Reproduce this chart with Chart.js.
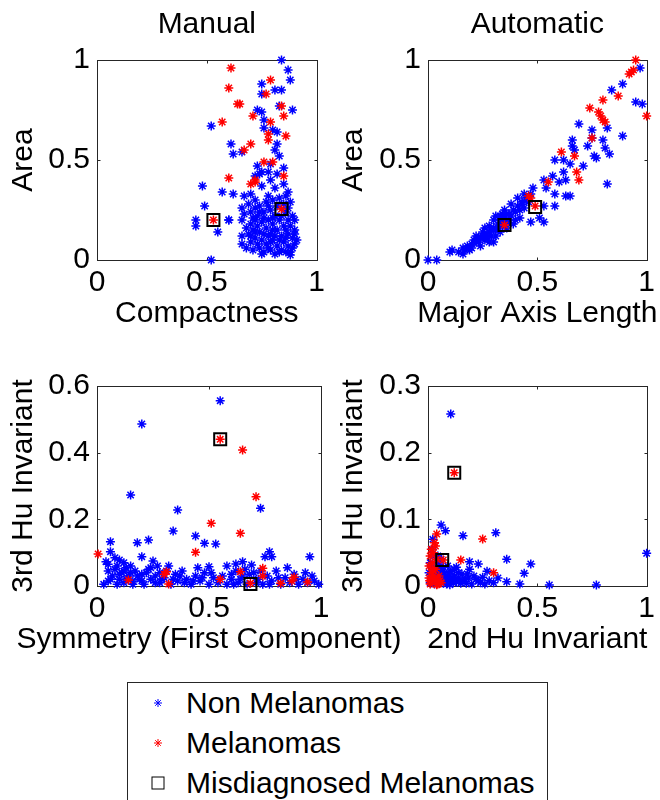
<!DOCTYPE html>
<html>
<head>
<meta charset="utf-8">
<script src="https://cdn.jsdelivr.net/npm/chart.js@4.4.1/dist/chart.umd.min.js"></script>
<style>
  html, body { margin: 0; padding: 0; background: #fff; }
  body { width: 660px; height: 800px; position: relative; overflow: hidden;
         font-family: "Liberation Sans", Arial, sans-serif; }
  canvas { position: absolute; }
  #legend { position: absolute; left: 127px; top: 682px; width: 421px; height: 140px;
            border: 1px solid #262626; box-sizing: border-box; }
  .row { position: absolute; left: 0; width: 100%; height: 40px; line-height: 40px; font-size: 30px; color: #000; }
  .row svg { position: absolute; left: 23px; top: 13px; }
  .row span { position: absolute; left: 58px; white-space: nowrap; }
</style>
</head>
<body>
<canvas id="manualArea" width="330" height="340" style="left:0;top:0"></canvas>
<canvas id="autoArea" width="330" height="340" style="left:330px;top:0"></canvas>
<canvas id="manualHu" width="420" height="336" style="left:0;top:330px"></canvas>
<canvas id="autoHu" width="330" height="336" style="left:330px;top:330px"></canvas>

<div id="legend">
  <div class="row" style="top:0">
    <svg width="14" height="14" viewBox="-7 -7 14 14"><path d="M-4 0H4M0 -4V4M-2.8 -2.8L2.8 2.8M-2.8 2.8L2.8 -2.8" stroke="#0000ff" stroke-width="1" fill="none"/></svg>
    <span>Non Melanomas</span>
  </div>
  <div class="row" style="top:40px">
    <svg width="14" height="14" viewBox="-7 -7 14 14"><path d="M-4 0H4M0 -4V4M-2.8 -2.8L2.8 2.8M-2.8 2.8L2.8 -2.8" stroke="#ff0000" stroke-width="1" fill="none"/></svg>
    <span>Melanomas</span>
  </div>
  <div class="row" style="top:80px">
    <svg width="14" height="14" viewBox="-7 -7 14 14"><rect x="-6" y="-6" width="12" height="12" stroke="#000" stroke-width="1" fill="none"/></svg>
    <span>Misdiagnosed Melanomas</span>
  </div>
</div>

<script>
// tick values
const unitTicks = [0, 0.5, 1];
const hu3ManualTicks = [0, 0.2, 0.4, 0.6];
const hu3AutoTicks = [0, 0.1, 0.2, 0.3];

// Manual: Compactness vs Area
const manualAreaNon = [
  [0.84,1.0],[0.87,0.95],[0.88,0.9],[0.75,0.88],[0.81,0.85],[0.84,0.85],[0.75,0.83],[0.89,0.75],
  [0.73,0.75],[0.75,0.74],[0.83,0.77],[0.52,0.67],[0.76,0.7],[0.76,0.66],[0.8,0.65],[0.82,0.64],
  [0.61,0.58],[0.82,0.58],[0.81,0.55],[0.62,0.53],[0.66,0.54],[0.83,0.52],[0.73,0.47],[0.79,0.48],
  [0.85,0.46],[0.75,0.44],[0.78,0.44],[0.82,0.43],[0.72,0.42],[0.48,0.37],[0.57,0.34],[0.62,0.33],
  [0.67,0.32],[0.7,0.33],[0.75,0.37],[0.81,0.36],[0.87,0.34],[0.86,0.32],[0.78,0.32],[0.74,0.43],
  [0.85,0.38],[0.79,0.4],[0.49,0.27],[0.45,0.2],[0.45,0.17],[0.6,0.2],[0.55,0.14],[0.52,0.0],
  [0.66,0.26],[0.67,0.23],[0.66,0.2],[0.66,0.12],[0.6,0.2],
  [0.69,0.28],[0.72,0.3],[0.74,0.27],[0.77,0.29],[0.8,0.3],[0.83,0.31],[0.88,0.29],[0.7,0.24],
  [0.73,0.22],[0.76,0.24],[0.79,0.25],[0.81,0.22],[0.86,0.24],[0.89,0.22],[0.9,0.2],[0.7,0.18],
  [0.72,0.2],[0.75,0.19],[0.78,0.2],[0.8,0.18],[0.83,0.2],[0.85,0.17],[0.88,0.17],[0.9,0.15],
  [0.69,0.13],[0.71,0.15],[0.74,0.14],[0.77,0.16],[0.79,0.13],[0.82,0.15],[0.84,0.12],[0.87,0.13],
  [0.89,0.11],[0.91,0.1],[0.7,0.09],[0.72,0.11],[0.75,0.1],[0.77,0.08],[0.8,0.1],[0.82,0.07],
  [0.85,0.09],[0.87,0.07],[0.9,0.08],[0.71,0.05],[0.74,0.06],[0.76,0.04],[0.79,0.05],[0.81,0.03],
  [0.84,0.05],[0.86,0.04],[0.88,0.04],[0.88,0.025],[0.78,0.12],[0.81,0.12],[0.84,0.22],[0.76,0.21],
  [0.73,0.17],[0.68,0.06],[0.66,0.08],
  [0.72,0.26],[0.78,0.27],[0.82,0.27],[0.85,0.28],[0.87,0.26],[0.71,0.21],[0.74,0.24],[0.8,0.21],
  [0.87,0.2],[0.72,0.14],[0.76,0.13],[0.8,0.15],[0.86,0.15],[0.9,0.13],[0.73,0.08],[0.79,0.09],
  [0.83,0.1],[0.86,0.11],[0.75,0.03],[0.83,0.04],[0.89,0.06],[0.78,0.06],[0.68,0.16],[0.7,0.12]
];
const manualAreaMel = [
  [0.61,0.96],[0.79,0.9],[0.6,0.86],[0.77,0.83],[0.64,0.78],[0.65,0.78],[0.84,0.77],[0.71,0.72],
  [0.85,0.72],[0.57,0.69],[0.79,0.69],[0.78,0.63],[0.86,0.62],[0.78,0.6],[0.7,0.58],[0.67,0.55],
  [0.76,0.49],[0.8,0.49],[0.85,0.42],[0.6,0.41],[0.72,0.4],[0.7,0.38],[0.72,0.39],
  [0.53,0.2],[0.84,0.255]
];
const manualAreaMiss = [[0.53,0.2],[0.84,0.255]];

// Automatic: Major Axis Length vs Area
const autoAreaNon = [
  [0.97,0.96],[0.89,0.88],[0.84,0.85],[0.95,0.79],[0.98,0.78],[0.82,0.66],[0.69,0.68],[0.75,0.65],
  [0.75,0.61],[0.8,0.6],[0.89,0.62],[0.66,0.6],[0.66,0.57],[0.73,0.57],[0.81,0.56],[0.67,0.55],
  [0.76,0.52],[0.83,0.53],[0.77,0.51],[0.58,0.5],[0.62,0.5],[0.65,0.48],[0.71,0.47],[0.62,0.44],
  [0.57,0.42],[0.53,0.4],[0.6,0.39],[0.63,0.4],[0.54,0.36],[0.48,0.36],[0.82,0.38],[0.58,0.33],
  [0.63,0.32],[0.65,0.32],[0.58,0.27],[0.53,0.27],[0.53,0.19],[0.47,0.19],[0.51,0.21],[0.43,0.28],
  [0.45,0.3],
  [0,0],[0.04,0],[0.1,0.04],[0.11,0.05],[0.16,0.03],[0.16,0.06],[0.18,0.07],[0.2,0.08],
  [0.21,0.1],[0.23,0.09],[0.24,0.11],[0.25,0.12],[0.26,0.1],[0.27,0.13],[0.28,0.14],[0.29,0.12],
  [0.3,0.16],[0.31,0.15],[0.32,0.18],[0.33,0.2],[0.34,0.17],[0.35,0.21],[0.36,0.19],[0.37,0.23],
  [0.38,0.22],[0.39,0.25],[0.4,0.24],[0.41,0.27],[0.42,0.25],[0.43,0.29],[0.44,0.26],[0.45,0.31],
  [0.46,0.29],[0.47,0.33],[0.44,0.33],[0.41,0.31],[0.38,0.28],[0.35,0.25],[0.3,0.2],[0.28,0.17],
  [0.25,0.14],[0.22,0.12],[0.31,0.12],[0.33,0.14],[0.36,0.16],[0.39,0.18],[0.28,0.09],[0.24,0.07],
  [0.31,0.22],[0.34,0.23],[0.19,0.05],[0.3,0.09],[0.26,0.16],[0.42,0.21],[0.4,0.2],
  [0.22,0.09],[0.26,0.12],[0.29,0.15],[0.32,0.16],[0.34,0.19],[0.37,0.2],[0.27,0.11],[0.33,0.22],
  [0.36,0.23],[0.23,0.11],[0.2,0.06],[0.14,0.04],[0.17,0.05]
];
const autoAreaMel = [
  [0.95,1.0],[0.94,0.95],[0.92,0.93],[0.93,0.94],[0.87,0.82],[0.8,0.8],[0.74,0.76],[0.78,0.74],
  [0.79,0.72],[0.8,0.7],[0.81,0.69],[1.0,0.72],[0.75,0.61],[0.61,0.54],[0.67,0.52],[0.68,0.44],
  [0.69,0.4],[0.55,0.39],[0.46,0.32],[0.47,0.31],[0.49,0.27],[0.35,0.175]
];
const autoAreaMiss = [[0.49,0.265],[0.35,0.175]];

// Manual: Symmetry (First Component) vs 3rd Hu Invariant
const manualHuNon = [
  [0.55,0.556],[0.2,0.486],[0.15,0.273],[0.73,0.233],[0.36,0.228],[0.34,0.165],[0.44,0.15],[0.48,0.128],
  [0.53,0.126],[0.06,0.133],[0.18,0.13],[0.23,0.138],[0.06,0.103],[0.04,0.073],[0.2,0.088],[0.77,0.103],
  [0.75,0.088],[0.78,0.088],[0.95,0.088],[0.1,0.078],[0.5,0.058],[0.62,0.066],[0.65,0.073],[0.69,0.063],
  [0.03,0.005],[0.05,0.045],[0.07,0.03],[0.09,0.06],[0.1,0.02],[0.11,0.04],[0.12,0.01],[0.13,0.055],
  [0.14,0.03],[0.16,0.015],[0.17,0.045],[0.19,0.02],[0.2,0.035],[0.21,0.005],[0.23,0.05],[0.24,0.02],
  [0.26,0.03],[0.27,0.06],[0.28,0.01],[0.3,0.025],[0.31,0.045],[0.33,0.005],[0.35,0.035],[0.36,0.015],
  [0.38,0.045],[0.4,0.02],[0.42,0.005],[0.44,0.03],[0.46,0.015],[0.48,0.04],[0.5,0.005],[0.52,0.025],
  [0.54,0.01],[0.56,0.03],[0.58,0.005],[0.6,0.02],[0.62,0.045],[0.63,0.01],[0.65,0.03],[0.67,0.005],
  [0.7,0.04],[0.72,0.02],[0.74,0.005],[0.76,0.03],[0.78,0.015],[0.8,0.045],[0.82,0.005],[0.84,0.025],
  [0.86,0.01],[0.88,0.035],[0.9,0.005],[0.92,0.02],[0.94,0.01],[0.96,0.03],[0.99,0.005],[0.15,0.06],
  [0.25,0.075],[0.05,0.065],[0.08,0.085],[0.12,0.07],[0.32,0.06],[0.45,0.055],[0.58,0.06],[0.85,0.055],
  [0.06,0.02],[0.08,0.05],[0.1,0.035],[0.12,0.045],[0.13,0.02],[0.15,0.04],[0.16,0.005],[0.18,0.03],
  [0.2,0.015],[0.22,0.04],[0.24,0.055],[0.26,0.01],[0.28,0.04],[0.29,0.02],[0.34,0.02],[0.37,0.03],
  [0.39,0.01],[0.43,0.015],[0.47,0.025],[0.51,0.04],[0.6,0.035],[0.61,0.005],[0.64,0.02],[0.66,0.05],
  [0.68,0.035],[0.71,0.01],[0.73,0.045],[0.77,0.005],[0.81,0.025],[0.89,0.02],[0.93,0.04],[0.97,0.015],
  [0.09,0.005],[0.05,0.015]
];
const manualHuMel = [
  [0.55,0.44],[0.65,0.408],[0.71,0.268],[0.51,0.188],[0.64,0.158],[0.44,0.101],[0.005,0.096],[0.64,0.043],
  [0.74,0.053],[0.31,0.043],[0.3,0.035],[0.14,0.018],[0.55,0.02],[0.685,0.008],[0.74,0.03],[0.88,0.026],
  [0.94,0.012],[0.82,0.008],[0.32,0.006],[0.87,0.015]
];
const manualHuMiss = [[0.55,0.44],[0.685,0.006]];

// Automatic: 2nd Hu Invariant vs 3rd Hu Invariant
const autoHuNon = [
  [0.104,0.258],[0.06,0.0915],[0.08,0.083],[0.022,0.07],[0.16,0.0755],[0.31,0.08],[0.19,0.0365],[0.23,0.033],
  [0.36,0.04],[0.47,0.033],[0.44,0.019],[0.32,0.012],[1.0,0.049],[0.77,0.0015],[0.555,0.0015],[0.42,0.003],
  [0.36,0.0065],[0.27,0.022],[0.25,0.013],[0.22,0.01],[0.18,0.018],[0.14,0.02],[0.12,0.025],[0.1,0.008],
  [0.01,0.005],[0.02,0.015],[0.03,0.003],[0.04,0.025],[0.05,0.01],[0.06,0.02],[0.07,0.004],[0.08,0.015],
  [0.09,0.03],[0.1,0.002],[0.11,0.012],[0.13,0.006],[0.15,0.004],[0.17,0.01],[0.2,0.003],[0.05,0.035],
  [0.03,0.045],[0.015,0.03],[0.07,0.028],[0.12,0.015],[0.16,0.008],[0.19,0.025],[0.08,0.008],[0.04,0.008],
  [0.02,0.055],[0.035,0.02],[0.065,0.012],[0.095,0.018],[0.13,0.028],[0.21,0.015],[0.24,0.005],[0.28,0.008],
  [0.005,0.02],[0.01,0.035],[0.025,0.01],[0.045,0.018],[0.055,0.028],[0.075,0.02],[0.085,0.003],[0.105,0.022],
  [0.115,0.005],[0.125,0.01],[0.14,0.012],[0.155,0.018],[0.175,0.004],[0.185,0.012],[0.23,0.008],[0.26,0.003],
  [0.3,0.005],[0.045,0.045],[0.06,0.04],[0.09,0.012]
];
const autoHuMel = [
  [0.12,0.17],[0.04,0.078],[0.034,0.06],[0.25,0.0705],[0.07,0.039],[0.15,0.039],[0.3,0.02],[0.01,0.045],
  [0.02,0.035],[0.015,0.02],[0.03,0.01],[0.045,0.003],[0.005,0.012],[0.025,0.05],[0.05,0.015],[0.06,0.005],
  [0.035,0.025],[0.01,0.003],[0.02,0.008],
  [0.005,0.03],[0.015,0.055],[0.025,0.015],[0.04,0.04],[0.055,0.008],[0.03,0.065],[0.02,0.025],[0.008,0.008],
  [0.04,0.002]
];
const autoHuMiss = [[0.12,0.17],[0.065,0.039]];

const fontFamily = '"Liberation Sans", Arial, sans-serif';
const axisColor = '#262626';
const nonColor = '#0000ff';
const melColor = '#ff0000';

Chart.defaults.font.family = fontFamily;
Chart.defaults.font.size = 30;
Chart.defaults.color = '#000';

const fmt = v => String(Math.round(v * 10) / 10);
const toXY = arr => arr.map(p => ({ x: p[0], y: p[1] }));

// matlab style box with inward ticks, plus the x label (drawn without width limit)
const frame = {
    id: 'frame',
    beforeDatasetsDraw(chart) {
        const { ctx, chartArea: a, scales } = chart;
        const l = Math.round(a.left) + 0.5, r = Math.round(a.right) + 0.5;
        const t = Math.round(a.top) + 0.5, b = Math.round(a.bottom) + 0.5;
        const len = 3;
        ctx.save();
        ctx.strokeStyle = axisColor;
        ctx.lineWidth = 1;
        ctx.strokeRect(l, t, r - l, b - t);
        ctx.beginPath();
        scales.x.ticks.forEach(tk => {
            const px = Math.round(scales.x.getPixelForValue(tk.value)) + 0.5;
            ctx.moveTo(px, b); ctx.lineTo(px, b - len);
            ctx.moveTo(px, t); ctx.lineTo(px, t + len);
        });
        scales.y.ticks.forEach(tk => {
            const py = Math.round(scales.y.getPixelForValue(tk.value)) + 0.5;
            ctx.moveTo(l, py); ctx.lineTo(l + len, py);
            ctx.moveTo(r, py); ctx.lineTo(r - len, py);
        });
        ctx.stroke();
        ctx.restore();
    },
    afterDraw(chart, args, opts) {
        const { ctx, chartArea: a } = chart;
        ctx.save();
        ctx.font = '30px ' + fontFamily;
        ctx.fillStyle = '#000';
        ctx.textAlign = 'center';
        ctx.textBaseline = 'middle';
        ctx.fillText(opts.xTitle, (a.left + a.right) / 2, a.bottom + 54);
        ctx.restore();
    }
};

function makePlot(id, p) {
    return new Chart(document.getElementById(id), {
        type: 'scatter',
        data: {
            datasets: [
                { label: 'Non Melanomas', data: toXY(p.non), pointStyle: 'star', pointRadius: 4.5,
                  borderColor: nonColor, backgroundColor: nonColor, borderWidth: 1.5, clip: false, order: 3 },
                { label: 'Melanomas', data: toXY(p.mel), pointStyle: 'star', pointRadius: 4.5,
                  borderColor: melColor, backgroundColor: melColor, borderWidth: 1.5, clip: false, order: 2 },
                { label: 'Misdiagnosed Melanomas', data: toXY(p.miss), pointStyle: 'rect', pointRadius: 8.5,
                  borderColor: '#000', backgroundColor: 'rgba(0,0,0,0)', borderWidth: 2, clip: false, order: 1 }
            ]
        },
        options: {
            responsive: false,
            animation: false,
            events: [],
            layout: { padding: p.padding },
            plugins: {
                legend: { display: false },
                tooltip: { enabled: false },
                title: p.title ? {
                    display: true, text: p.title, fullSize: false, color: '#000',
                    font: { size: 30, weight: 'normal' }, padding: { top: 7, bottom: 17 }
                } : { display: false },
                frame: { xTitle: p.xTitle }
            },
            scales: {
                x: {
                    type: 'linear', min: p.xTicks[0], max: p.xTicks[p.xTicks.length - 1],
                    grid: { display: false, drawTicks: false }, border: { display: false },
                    ticks: { padding: 5, callback: fmt },
                    afterBuildTicks: s => { s.ticks = p.xTicks.map(v => ({ value: v })); },
                    afterFit: s => { s.height = 80; }
                },
                y: {
                    type: 'linear', min: p.yTicks[0], max: p.yTicks[p.yTicks.length - 1],
                    grid: { display: false, drawTicks: false }, border: { display: false },
                    ticks: { padding: 7, callback: fmt },
                    afterBuildTicks: s => { s.ticks = p.yTicks.map(v => ({ value: v })); },
                    afterFit: s => { s.width = p.yWidth; },
                    title: { display: true, text: p.yTitle, padding: { top: 5.5, bottom: 0 } }
                }
            }
        },
        plugins: [frame]
    });
}

makePlot('manualArea', {
    title: 'Manual', xTitle: 'Compactness', yTitle: 'Area',
    non: manualAreaNon, mel: manualAreaMel, miss: manualAreaMiss,
    xTicks: unitTicks, yTicks: unitTicks, yWidth: 97,
    padding: { left: 0, right: 10, top: 0, bottom: 0 }
});
makePlot('autoArea', {
    title: 'Automatic', xTitle: 'Major Axis Length', yTitle: 'Area',
    non: autoAreaNon, mel: autoAreaMel, miss: autoAreaMiss,
    xTicks: unitTicks, yTicks: unitTicks, yWidth: 98,
    padding: { left: 0, right: 8, top: 0, bottom: 0 }
});
makePlot('manualHu', {
    xTitle: 'Symmetry (First Component)', yTitle: '3rd Hu Invariant',
    non: manualHuNon, mel: manualHuMel, miss: manualHuMiss,
    xTicks: unitTicks, yTicks: hu3ManualTicks, yWidth: 97,
    padding: { left: 0, right: 99, top: 56, bottom: 0 }
});
makePlot('autoHu', {
    xTitle: '2nd Hu Invariant', yTitle: '3rd Hu Invariant',
    non: autoHuNon, mel: autoHuMel, miss: autoHuMiss,
    xTicks: unitTicks, yTicks: hu3AutoTicks, yWidth: 98,
    padding: { left: 0, right: 8, top: 56, bottom: 0 }
});
</script>
</body>
</html>
